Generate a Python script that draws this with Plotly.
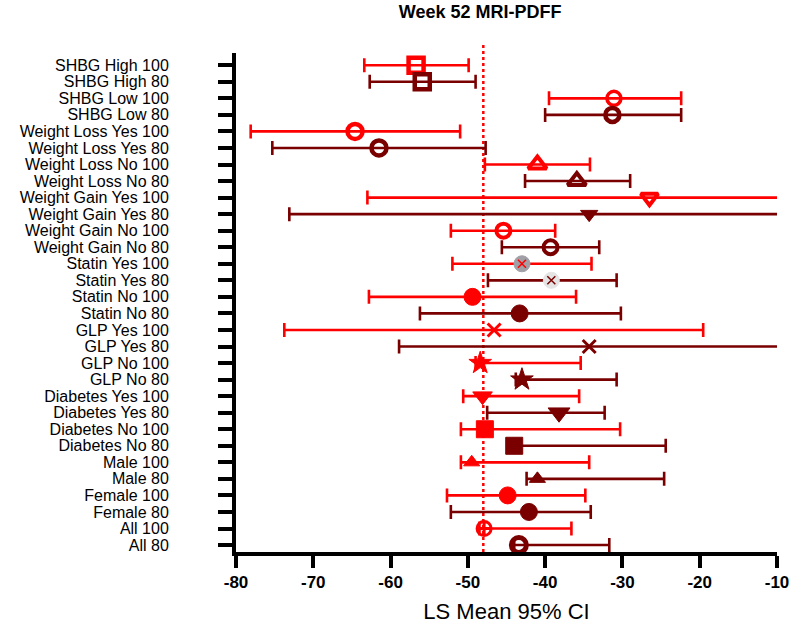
import plotly.graph_objects as go

labels = ["SHBG High 100", "SHBG High 80", "SHBG Low 100", "SHBG Low 80",
          "Weight Loss Yes 100", "Weight Loss Yes 80", "Weight Loss No 100", "Weight Loss No 80",
          "Weight Gain Yes 100", "Weight Gain Yes 80", "Weight Gain No 100", "Weight Gain No 80",
          "Statin Yes 100", "Statin Yes 80", "Statin No 100", "Statin No 80",
          "GLP Yes 100", "GLP Yes 80", "GLP No 100", "GLP No 80",
          "Diabetes Yes 100", "Diabetes Yes 80", "Diabetes No 100", "Diabetes No 80",
          "Male 100", "Male 80", "Female 100", "Female 80", "All 100", "All 80"]

ls_mean = [-56.7, -55.9, -31.1, -31.3, -64.6, -61.5, -41.0, -35.9,
           -26.5, -34.3, -45.4, -39.3, -43.0, -39.2, -49.4, -43.3,
           -46.6, -34.3, -48.4, -43.0, -48.1, -38.2, -47.8, -44.0,
           -49.5, -41.0, -44.85, -42.1, -47.9, -43.4]

ci_lower = [-63.4, -62.7, -39.5, -40.0, -78.1, -75.3, -47.8, -42.6,
            -63.0, -73.1, -52.2, -45.6, -52.0, -47.4, -62.8, -56.2,
            -73.75, -58.9, -49.0, -43.8, -50.6, -47.5, -50.9, -44.5,
            -50.9, -42.4, -52.7, -52.2, -48.5, -44.0]

ci_upper = [-49.9, -49.0, -22.4, -22.4, -51.0, -47.7, -34.2, -29.0,
            -5.0, -5.0, -38.7, -33.0, -34.0, -30.75, -36.0, -30.2,
            -19.55, -8.0, -35.4, -30.75, -35.6, -32.3, -30.3, -24.4,
            -34.3, -24.6, -34.8, -34.1, -36.6, -31.7]

reference_line = -48.0

RED = "#FF0000"
DARK = "#7A0000"

# marker style per row: (symbol, size, fill, line color, line width)
styles = [
    ("square-open", 15, RED, RED, 4.5), ("square-open", 15, DARK, DARK, 4.5),
    ("circle-open", 14, RED, RED, 3.5), ("circle-open", 14, DARK, DARK, 4.5),
    ("circle-open", 15, RED, RED, 4.5), ("circle-open", 15, DARK, DARK, 4.5),
    ("triangle-up-open", 16, RED, RED, 4), ("triangle-up-open", 16, DARK, DARK, 4),
    ("triangle-down-open", 15, RED, RED, 4), ("triangle-down", 15, DARK, DARK, 1),
    ("circle-open", 14, RED, RED, 4), ("circle-open", 14, DARK, DARK, 4),
    ("circle", 16, "#A0A0A6", "#A0A0A6", 1), ("circle", 16, "#E4E4E4", "#E4E4E4", 1),
    ("circle", 17, RED, RED, 1), ("circle", 17, DARK, DARK, 1),
    ("x-thin-open", 13, RED, RED, 3), ("x-thin-open", 13, DARK, DARK, 3),
    ("star", 17, RED, RED, 1), ("star", 17, DARK, DARK, 1),
    ("triangle-down", 17, RED, RED, 1), ("triangle-down", 19, DARK, DARK, 1),
    ("square", 17, RED, RED, 1), ("square", 17, DARK, DARK, 1),
    ("triangle-up", 14, RED, RED, 1), ("triangle-up", 14, DARK, DARK, 1),
    ("circle", 17, RED, RED, 1), ("circle", 17, DARK, DARK, 1),
    ("circle-cross-open", 14, RED, RED, 3), ("circle-open", 15, DARK, DARK, 5),
]

row_colors = [RED if i % 2 == 0 else DARK for i in range(len(labels))]

fig = go.Figure()
for i, lab in enumerate(labels):
    sym, size, fill, lc, lw = styles[i]
    col = row_colors[i]
    fig.add_trace(go.Scatter(
        x=[ls_mean[i]], y=[i], mode="markers", name=lab,
        marker=dict(symbol=sym, size=size, color=fill, line=dict(color=lc, width=lw)),
        error_x=dict(type="data", symmetric=False,
                     array=[ci_upper[i] - ls_mean[i]],
                     arrayminus=[ls_mean[i] - ci_lower[i]],
                     color=col, thickness=2.6, width=7),
        showlegend=False,
    ))

# dotted overlay for the two statin markers
for i, dc in [(12, RED), (13, DARK)]:
    fig.add_trace(go.Scatter(
        x=[ls_mean[i]], y=[i], mode="markers",
        marker=dict(symbol="x-thin-open", size=8, color=dc, line=dict(color=dc, width=1.5)),
        showlegend=False,
    ))

fig.add_shape(type="line", x0=reference_line, x1=reference_line, xref="x",
              y0=0, y1=1.017, yref="paper",
              line=dict(color=RED, width=2.5, dash="dot"), layer="below")

FONT = "Liberation Sans, Arial, sans-serif"

fig.update_layout(
    width=791, height=626,
    margin=dict(l=236, r=14, t=53, b=74),
    plot_bgcolor="white", paper_bgcolor="white",
    title=dict(text="<b>Week 52 MRI-PDFF</b>", x=0.607, xanchor="center",
               y=0.982, yanchor="middle",
               font=dict(family=FONT, size=18, color="black")),
    xaxis=dict(range=[-80, -10], tickvals=[-80, -70, -60, -50, -40, -30, -20, -10],
               ticktext=["<b>-80</b>", "<b>-70</b>", "<b>-60</b>", "<b>-50</b>",
                         "<b>-40</b>", "<b>-30</b>", "<b>-20</b>", "<b>-10</b>"],
               showgrid=False, zeroline=False, showline=True, linecolor="black",
               linewidth=4, ticks="outside", ticklen=12, tickwidth=4, tickcolor="black",
               tickfont=dict(family=FONT, size=17, color="black"), automargin=False,
               title=dict(text="LS Mean 95% CI", standoff=13,
                          font=dict(family=FONT, size=22, color="black"))),
    yaxis=dict(range=[29.42, -0.74], tickvals=list(range(len(labels))), ticktext=labels,
               showgrid=False, zeroline=False, showline=True, linecolor="black",
               linewidth=4, ticks="outside", ticklen=14, tickwidth=4, tickcolor="black",
               ticklabelstandoff=46, automargin=False,
               tickfont=dict(family=FONT, size=16, color="black")),
)

fig.write_html("out.html", config={"displayModeBar": False},
               post_script="document.body.style.margin='0';document.body.style.overflow='hidden';")
